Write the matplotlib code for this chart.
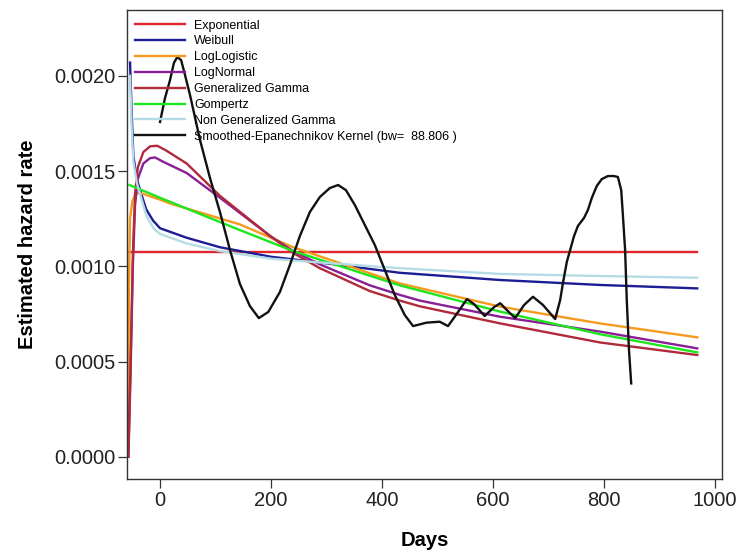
import matplotlib.pyplot as plt

plt.rcParams['font.family'] = ['Liberation Sans', 'DejaVu Sans']

# values (days, hazard rate)
exp_days = [-55, 968]
exp_rate = [0.001077, 0.001077]

weib_days = [-54, -51, -48, -42, -35, -25, -12.5, 0, 48, 108, 200, 288, 432, 613, 793, 968]
weib_rate = [0.00207, 0.00180, 0.00158, 0.00146, 0.00139, 0.00130, 0.00124, 0.00120,
             0.00115, 0.00110, 0.00105, 0.00102, 0.000966, 0.000928, 0.000902, 0.000884]

llog_days = [-57.5, -57, -56, -54, -50, -44, -38, -30, 0, 18, 144, 240, 432, 613, 793, 968]
llog_rate = [0.0, 0.0004, 0.0009, 0.00125, 0.00134, 0.00138, 0.001385, 0.00138, 0.00135,
             0.00133, 0.00122, 0.00110, 0.00091, 0.000788, 0.00070, 0.000627]

lnorm_days = [-57, -53, -49, -45, -40, -30, -18, -9, 5, 48, 108, 198, 240, 288, 378,
              432, 468, 613, 793, 968]
lnorm_rate = [0.0, 0.00045, 0.00100, 0.00132, 0.00146, 0.00154, 0.001568, 0.001572,
              0.00155, 0.00149, 0.00136, 0.00116, 0.00108, 0.00101, 0.00090, 0.00085,
              0.00082, 0.000735, 0.000657, 0.000569]

ggam_days = [-57, -53, -49, -45, -40, -30, -18, -5, 10, 48, 108, 198, 240, 288, 378,
             432, 468, 613, 793, 968]
ggam_rate = [0.0, 0.0005, 0.00105, 0.00138, 0.00152, 0.00160, 0.00163, 0.001633, 0.00161,
             0.00154, 0.00137, 0.00116, 0.00107, 0.00099, 0.00087, 0.00082, 0.00079,
             0.00070, 0.00060, 0.000534]

gomp_days = [-55, 0, 144, 240, 432, 613, 793, 968]
gomp_rate = [0.001427, 0.00136, 0.00119, 0.00108, 0.00090, 0.000762, 0.000643, 0.000548]

ngam_days = [-54, -51, -48, -42, -35, -25, -12, 0, 48, 108, 200, 288, 432, 613, 793, 968]
ngam_rate = [0.00200, 0.00172, 0.00155, 0.00144, 0.00137, 0.00127, 0.00120, 0.00117,
             0.00112, 0.00108, 0.00104, 0.00102, 0.00099, 0.00096, 0.000949, 0.00094]

kern_days = [0, 9, 18, 25, 31, 38, 45, 54, 72, 90, 108, 126, 144, 162, 178, 195, 216,
             234, 252, 270, 288, 306, 321, 335, 351, 369, 387, 405, 423, 441, 456, 480,
             504, 519, 537, 553, 566, 585, 602, 613, 625, 640, 656, 672, 690, 712, 721,
             726, 733, 739, 746, 753, 764, 771, 778, 787, 796, 807, 818, 825, 831, 834,
             838, 841, 845, 849]
kern_rate = [0.001758, 0.001884, 0.001978, 0.002068, 0.002099, 0.002083, 0.002005, 0.00190,
             0.001664, 0.001464, 0.001285, 0.001086, 0.000907, 0.000791, 0.000728,
             0.00076, 0.000865, 0.001007, 0.001159, 0.001285, 0.001364, 0.001411,
             0.001427, 0.00140, 0.001322, 0.001217, 0.001112, 0.000981, 0.000849,
             0.000744, 0.000686, 0.000704, 0.000709, 0.000686, 0.00076, 0.000828,
             0.000801, 0.000739, 0.000786, 0.000806, 0.00077, 0.000728, 0.000797,
             0.00084, 0.000797, 0.000723, 0.000823, 0.000912, 0.001023, 0.001086,
             0.001159, 0.001212, 0.001254, 0.001296, 0.001359, 0.001422, 0.001458,
             0.001474, 0.001474, 0.001469, 0.00140, 0.00127, 0.001086, 0.000823,
             0.00056, 0.000385]

x_ticks = [0, 200, 400, 600, 800, 1000]
y_ticks = [0.0, 0.0005, 0.0010, 0.0015, 0.0020]

series = [
    ('Exponential', exp_days, exp_rate, '#e0262e'),
    ('Weibull', weib_days, weib_rate, '#1c1c94'),
    ('LogLogistic', llog_days, llog_rate, '#f59a1c'),
    ('LogNormal', lnorm_days, lnorm_rate, '#8a1e96'),
    ('Generalized Gamma', ggam_days, ggam_rate, '#b02a3c'),
    ('Gompertz', gomp_days, gomp_rate, '#1ee61e'),
    ('Non Generalized Gamma', ngam_days, ngam_rate, '#b4dce4'),
    ('Smoothed-Epanechnikov Kernel (bw=  88.806 )', kern_days, kern_rate, '#111111'),
]

fig = plt.figure(figsize=(7.37, 5.52), dpi=100)
ax = fig.add_axes([127 / 737, 1 - 479 / 552, 595 / 737, 469 / 552])

for label, d, r, c in series:
    ax.plot(d, r, color=c, lw=1.7, label=label, solid_joinstyle='round')

ax.set_xlim(-59.5, 1012.6)
ax.set_ylim(-0.000117, 0.002346)
ax.set_xticks(x_ticks)
ax.set_yticks(y_ticks)
ax.set_yticklabels(['%.4f' % v for v in y_ticks])
ax.tick_params(length=6.5, width=0.9, pad=2, labelsize=14.5, color='#333333', labelcolor='#222222')
for s in ax.spines.values():
    s.set_color('#333333')
    s.set_linewidth(1.0)

ax.set_xlabel('Days', fontsize=14.5, fontweight='bold', labelpad=15)
ax.set_ylabel('Estimated hazard rate', fontsize=14.5, fontweight='bold', labelpad=12)

ax.legend(loc='upper left', bbox_to_anchor=(135 / 737, 1 - 19.5 / 552),
          bbox_transform=fig.transFigure, frameon=False, fontsize=9,
          handlelength=4.0, handletextpad=0.72, labelspacing=0.31,
          borderpad=0, borderaxespad=0)

fig.savefig('out.png', dpi=100)
